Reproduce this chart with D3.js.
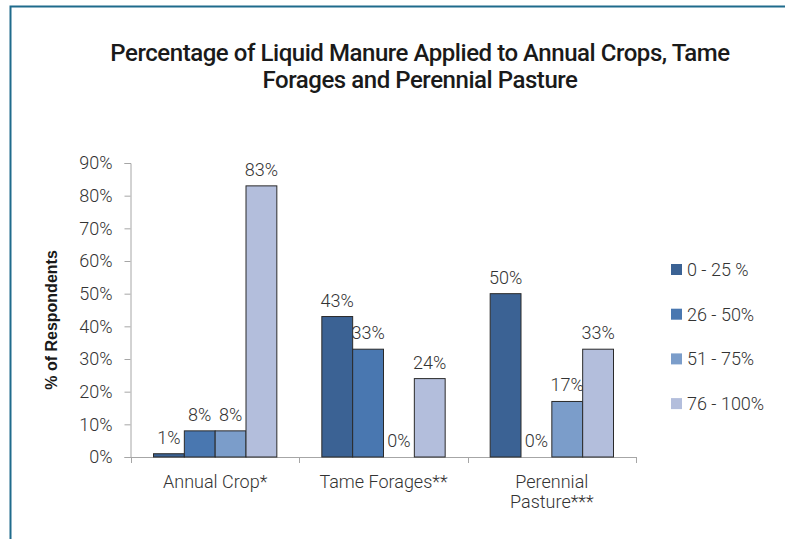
<!DOCTYPE html>
<html><head><meta charset="utf-8">
<script src="https://cdn.jsdelivr.net/npm/d3@7"></script>
<style>
body{margin:0;background:#fff;}
svg{display:block;}
</style></head>
<body>
<svg id="c" width="785" height="539"></svg>
<script>
const categories = [["Annual Crop*"], ["Tame Forages**"], ["Perennial", "Pasture***"]];
const seriesNames = ["0 - 25 %", "26 - 50%", "51 - 75%", "76 - 100%"];
const seriesColors = ["#3b6294", "#4977b0", "#7b9dca", "#b3bedc"];
const values = [
  [1, 8, 8, 83],
  [43, 33, 0, 24],
  [50, 0, 17, 33]
];
const yTicks = [0, 10, 20, 30, 40, 50, 60, 70, 80, 90];

const svg = d3.select("#c");
const font = "Roboto, 'DejaVu Sans', sans-serif";
const txt = "#333333";
const fs = 18;
const fw = 300;

// frame
svg.append("path").attr("d", "M10.5,539 V6.5 H785").attr("fill", "none")
  .attr("stroke", "#1f6b8c").attr("stroke-width", 2);

// title
const title = svg.append("text").attr("text-anchor", "middle")
  .attr("font-family", font).attr("font-weight", 500).attr("font-size", 24)
  .attr("letter-spacing", -0.45).attr("fill", "#1a1a1a");
title.append("tspan").attr("x", 420).attr("y", 61).text("Percentage of Liquid Manure Applied to Annual Crops, Tame");
title.append("tspan").attr("x", 420).attr("y", 88).text("Forages and Perennial Pasture");

const x0 = d3.scaleBand().domain(d3.range(categories.length)).range([131, 636]);
const x1 = d3.scaleBand().domain(d3.range(seriesNames.length)).range([22.5, x0.bandwidth() - 22.5]).padding(0);
const y = d3.scaleLinear().domain([0, 90]).range([457, 163]);

// y axis
const yAxis = svg.append("g").attr("transform", "translate(130.5,0)")
  .call(d3.axisLeft(y).tickValues(yTicks).tickSize(6).tickPadding(12).tickFormat(d => d + "%"));
yAxis.select(".domain").attr("stroke", "#a6a6a6");
yAxis.selectAll(".tick line").attr("stroke", "#a6a6a6");
yAxis.selectAll("text").attr("font-family", font).attr("font-size", fs).attr("font-weight", fw).attr("fill", txt);

// x axis
const xAxis = svg.append("g").attr("transform", "translate(0,457)");
xAxis.append("line").attr("x1", 130).attr("x2", 636).attr("y1", 0.5).attr("y2", 0.5).attr("stroke", "#a6a6a6");
const bounds = [x0(0), ...categories.map((c, i) => x0(i) + x0.bandwidth())];
xAxis.selectAll("line.tk").data(bounds).join("line").attr("class", "tk")
  .attr("x1", d => Math.round(d) + 0.5).attr("x2", d => Math.round(d) + 0.5)
  .attr("y1", 0).attr("y2", 6).attr("stroke", "#a6a6a6");

// category labels
categories.forEach((lines, i) => {
  const t = svg.append("text").attr("text-anchor", "middle").attr("font-family", font)
    .attr("font-size", fs).attr("font-weight", fw).attr("fill", txt);
  lines.forEach((l, j) => t.append("tspan").attr("x", x0(i) + x0.bandwidth() / 2).attr("y", 488 + j * 20).text(l));
});

// bars
const g = svg.append("g");
values.forEach((row, i) => {
  row.forEach((v, j) => {
    const bx = x0(i) + x1(j);
    if (v > 0) {
      g.append("rect").attr("x", bx).attr("y", y(v)).attr("width", x1.bandwidth())
        .attr("height", y(0) - y(v)).attr("fill", seriesColors[j])
        .attr("stroke", "#2a2a2a").attr("stroke-width", 1);
    }
    g.append("text").attr("x", bx + x1.bandwidth() / 2).attr("y", y(v) - 10)
      .attr("text-anchor", "middle").attr("font-family", font).attr("font-size", fs)
      .attr("font-weight", fw).attr("fill", txt).text(v + "%");
  });
});

// y label
svg.append("text").attr("transform", "translate(57,320) rotate(-90)").attr("text-anchor", "middle")
  .attr("font-family", "'Liberation Sans', Arial, sans-serif").attr("font-weight", "bold")
  .attr("font-size", 16).attr("fill", "#1a1a1a").text("% of Respondents");

// legend
const leg = svg.append("g");
seriesNames.forEach((s, j) => {
  const ly = 276 + j * 44.7;
  leg.append("rect").attr("x", 671).attr("y", ly - 12).attr("width", 11).attr("height", 11).attr("fill", seriesColors[j]);
  leg.append("text").attr("x", 687).attr("y", ly).attr("font-family", font).attr("font-size", fs)
    .attr("font-weight", fw).attr("fill", txt).text(s);
});
</script>
</body></html>
